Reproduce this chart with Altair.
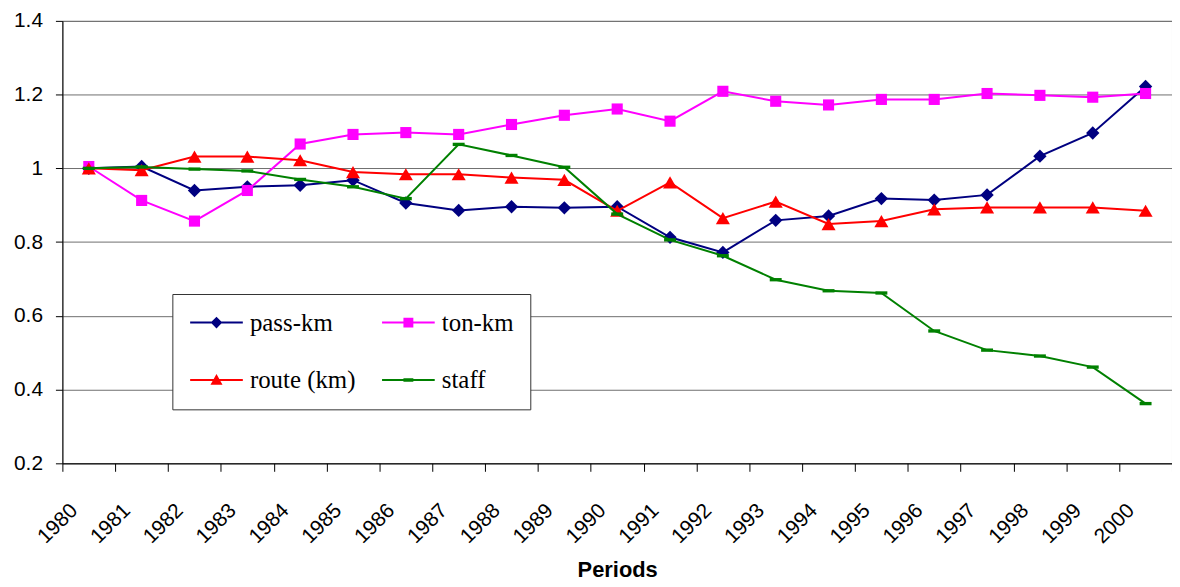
import altair as alt
import pandas as pd

# ---- data ----
years = ["1980", "1981", "1982", "1983", "1984", "1985", "1986", "1987", "1988", "1989", "1990",
         "1991", "1992", "1993", "1994", "1995", "1996", "1997", "1998", "1999", "2000"]

pass_km = [1.000, 1.005, 0.940, 0.950, 0.954, 0.968, 0.906, 0.886, 0.896, 0.893, 0.896,
           0.813, 0.772, 0.859, 0.871, 0.918, 0.914, 0.928, 1.033, 1.096, 1.222]
ton_km = [1.005, 0.913, 0.857, 0.940, 1.066, 1.092, 1.097, 1.092, 1.119, 1.144, 1.161,
          1.128, 1.209, 1.182, 1.172, 1.187, 1.187, 1.203, 1.198, 1.193, 1.203]
route_km = [1.000, 0.995, 1.032, 1.032, 1.022, 0.990, 0.984, 0.984, 0.975, 0.969, 0.885,
            0.962, 0.865, 0.910, 0.849, 0.857, 0.889, 0.894, 0.894, 0.894, 0.885]
staff = [1.000, 1.004, 0.998, 0.993, 0.970, 0.950, 0.918, 1.065, 1.035, 1.003, 0.876,
         0.806, 0.763, 0.698, 0.668, 0.662, 0.559, 0.507, 0.491, 0.461, 0.362]

y_ticks = [0.2, 0.4, 0.6, 0.8, 1.0, 1.2, 1.4]

series_names = ["pass-km", "ton-km", "route (km)", "staff"]
series_values = [pass_km, ton_km, route_km, staff]
series_colors = ["#000080", "#ff00ff", "#ff0000", "#008000"]

# markers on the lines
marker_shapes = ["diamond", "square", "triangle-up", "M-1,-0.28H1V0.28H-1Z"]
marker_sizes = [180, 125, 200, 144]

# legend symbols: a short line with the marker in the middle
line_part = "M-1,-0.094H4V0.094H-1Z "
legend_shapes = [
    line_part + "M0.95,0L1.5,-0.55L2.05,0L1.5,0.55Z",
    line_part + "M1.03,-0.47H1.97V0.47H1.03Z",
    line_part + "M1.5,-0.58L2.07,0.45L0.93,0.45Z",
    line_part + "M1.03,-0.17H1.97V0.17H1.03Z",
]

rows = []
for name, vals in zip(series_names, series_values):
    for yr, v in zip(years, vals):
        rows.append({"year": yr, "series": name, "value": v})
df = pd.DataFrame(rows)

# ---- encodings ----
x_enc = alt.X(
    "year:O",
    scale=alt.Scale(type="band", domain=years, paddingInner=0, paddingOuter=0),
    axis=alt.Axis(
        title="Periods", labelAngle=-45, labelAlign="right", labelBaseline="middle",
        labelPadding=36, labelOffset=-15, labelOverlap=False,
        labelFont="Liberation Sans", labelFontSize=21, labelColor="black",
        tickBand="extent", tickSize=8, tickColor="black", domainColor="black",
        grid=False, titleFont="Liberation Sans", titleFontSize=22, titleFontWeight="bold",
        titleColor="black", titleBaseline="alphabetic", titleY=114,
    ),
)
y_enc = alt.Y(
    "value:Q",
    scale=alt.Scale(domain=[0.2, 1.4], nice=False, zero=False),
    axis=alt.Axis(
        title=None, values=y_ticks, format="~g",
        labelFont="Liberation Sans", labelFontSize=21, labelColor="black", labelPadding=13,
        tickSize=7, tickColor="black", domainColor="black",
        gridColor="#6e6e6e", gridWidth=1,
    ),
)

base = alt.Chart(df)
layers = []
for name, col, shp, sz in zip(series_names, series_colors, marker_shapes, marker_sizes):
    part = base.transform_filter(alt.datum.series == name)
    layers.append(part.mark_line(color=col, strokeWidth=2).encode(x=x_enc, y=y_enc))
    layers.append(part.mark_point(shape=shp, size=sz, filled=True, color=col, opacity=1,
                                  strokeWidth=0).encode(x=x_enc, y=y_enc))

# legend comes from an empty layer so its symbols can be line+marker paths
leg = alt.Legend(
    title=None, orient="none", legendX=110.6, legendY=274.7, direction="horizontal",
    columns=2, gridAlign="each",
    columnPadding=24, rowPadding=32, padding=16, fillColor="white", strokeColor="#333333",
    cornerRadius=0, symbolSize=449, symbolStrokeWidth=0, symbolOpacity=1,
    labelFont="Liberation Serif", labelFontSize=25, labelColor="black", labelOffset=37,
    labelLimit=0,
)
legend_layer = base.transform_filter("false").mark_point(filled=True, opacity=1).encode(
    x=x_enc, y=y_enc,
    color=alt.Color("series:N", scale=alt.Scale(domain=series_names, range=series_colors), legend=leg),
    shape=alt.Shape("series:N", scale=alt.Scale(domain=series_names, range=legend_shapes), legend=leg),
)
layers.append(legend_layer)

chart = alt.layer(*layers).properties(
    width=1116, height=445,
    autosize=alt.AutoSizeParams(type="none"),
    padding={"left": 54.7, "top": 11.3, "right": 0, "bottom": 118},
).configure_view(stroke="#808080", strokeWidth=1)

chart.save("out.html", embed_options={"renderer": "svg", "actions": False})
